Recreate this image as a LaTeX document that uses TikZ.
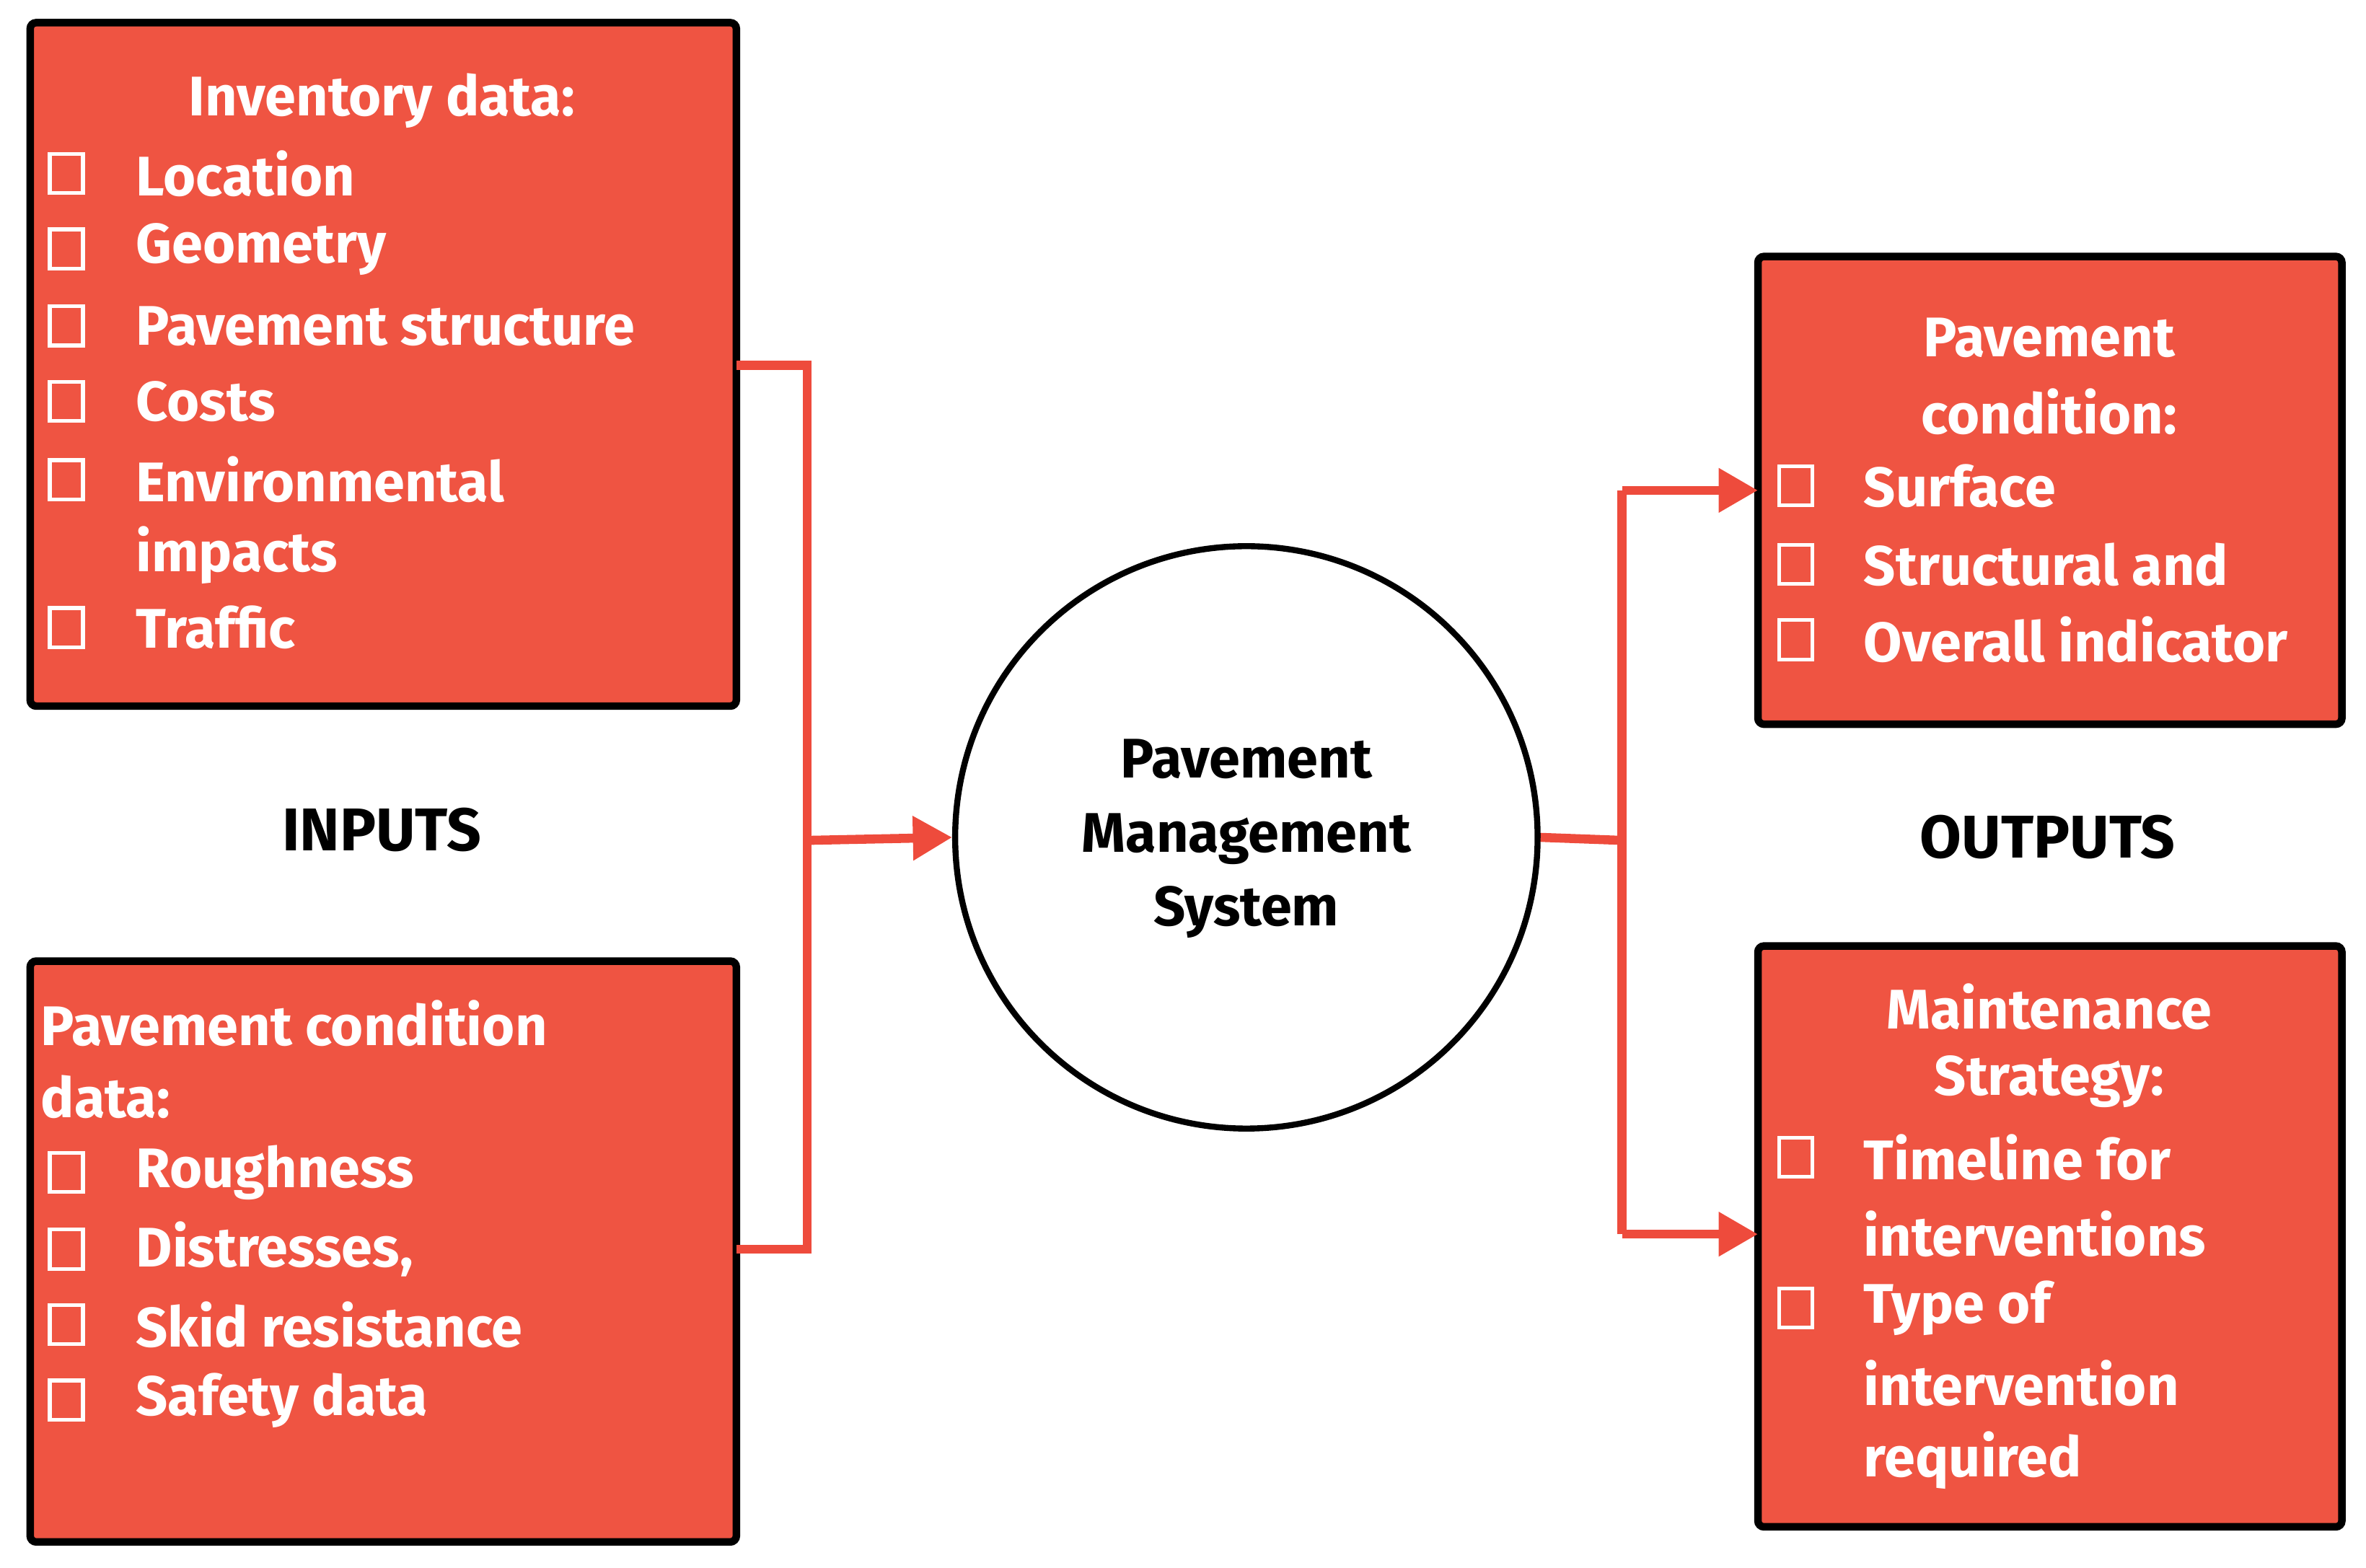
\documentclass[tikz,border=0pt]{standalone}
\usepackage{fontspec}
\setmainfont{Fira Sans}
\usetikzlibrary{arrows.meta}
\definecolor{boxred}{HTML}{EF5442}
\definecolor{linered}{HTML}{EE4B3C}
\begin{document}
\begin{tikzpicture}[x=1pt,y=-1pt,
  box/.style={draw=black,line width=5pt,fill=boxred,rounded corners=4pt},
  wt/.style={text=white,font=\fontsize{37}{44}\selectfont\bfseries,inner sep=0pt},
  bt/.style={text=black,font=\fontsize{40}{48}\selectfont\bfseries,inner sep=0pt},
  cb/.style={draw=white,line width=2.5pt,minimum width=22pt,minimum height=26pt,inner sep=0pt},
  conn/.style={draw=linered,line width=6pt},
  arr/.style={conn,-{Triangle[length=26pt,width=28pt]}}]
\useasboundingbox (0,0) rectangle (1568,1039);
\draw[box] (20,15) rectangle (488,468);
\draw[box] (20,637) rectangle (488,1022);
\draw[box] (1165,170) rectangle (1552,480);
\draw[box] (1165,627) rectangle (1552,1012);
\node[draw=black,line width=4pt,circle,minimum size=386pt] (pms) at (826,555) {};
% box1
\node[wt] (t1) at (253,67) {Inventory data:};
\foreach \y/\t [count=\i] in {115/Location,165/Geometry,216/Pavement structure,266/Costs,318/Environmental,416/Traffic}{
  \node[cb] (c1\i) at (44,\y) {};
  \node[wt,anchor=west] (l1\i) at (90,\y) {\t};}
\node[wt,anchor=west] (l1x) at (90,368) {impacts};
% box2
\node[wt,anchor=west] (t2a) at (27,678) {Pavement condition};
\node[wt,anchor=west] (t2b) at (27,727) {data:};
\foreach \y/\t [count=\i] in {777/Roughness,828/{Distresses,},878/Skid resistance,928/Safety data}{
  \node[cb] (c2\i) at (44,\y) {};
  \node[wt,anchor=west] (l2\i) at (90,\y) {\t};}
% box3
\node[wt] (t3a) at (1358,224) {Pavement};
\node[wt] (t3b) at (1358,273) {condition:};
\foreach \y/\t [count=\i] in {322/Surface,374/Structural and,424/Overall indicator}{
  \node[cb] (c3\i) at (1190,\y) {};
  \node[wt,anchor=west] (l3\i) at (1235,\y) {\t};}
% box4
\node[wt] (t4a) at (1358,667) {Maintenance};
\node[wt] (t4b) at (1358,717) {Strategy:};
\node[cb] (c41) at (1190,767) {};
\node[cb] (c42) at (1190,867) {};
\foreach \y/\t [count=\i] in {767/Timeline for,818/interventions,867/Type of,917/intervention,968/required}{
  \node[wt,anchor=west] (l4\i) at (1235,\y) {\t};}
% labels
\node[bt] (inp) at (253,550) {INPUTS};
\node[bt] (outp) at (1357,555) {OUTPUTS};
\node[bt,align=center,font=\fontsize{37}{49}\selectfont\bfseries] (pt) at (826,556) {Pavement\\Management\\System};
% connectors
\coordinate (a1) at (488,242); \coordinate (a2) at (535,242);
\coordinate (b1) at (488,828); \coordinate (b2) at (535,828);
\coordinate (m) at (535,557);
\draw[conn] (a1) -- (a2) -- (b2) -- (b1);
\draw[arr] (m) -- (pms.west);
\coordinate (r) at (1075,557);
\coordinate (rt) at (1075,325); \coordinate (rb) at (1075,818);
\draw[conn] (pms.east) -- (r);
\draw[conn] (rt) -- (rb);
\draw[arr] (rt) -- (1165,325);
\draw[arr] (rb) -- (1165,818);
\end{tikzpicture}
\end{document}
